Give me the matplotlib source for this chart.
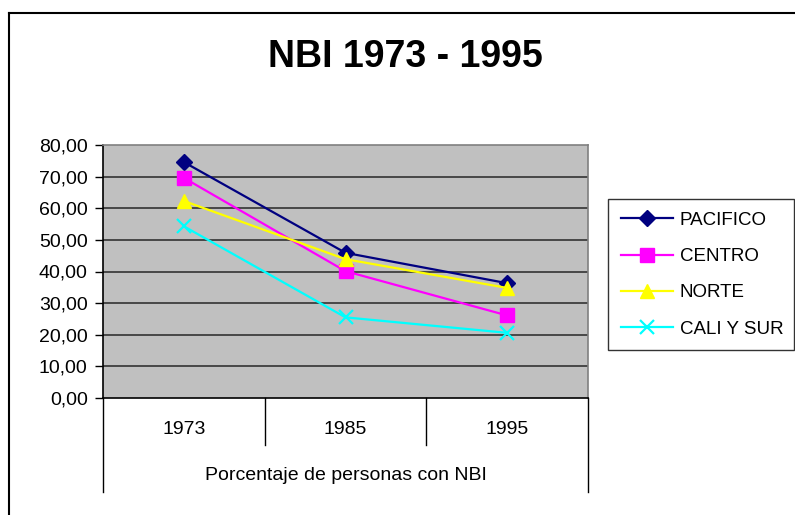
import matplotlib
matplotlib.use("Agg")
import matplotlib.pyplot as plt
from matplotlib.lines import Line2D

plt.rcParams['font.family'] = ['Liberation Sans', 'DejaVu Sans']

title = "NBI 1973 - 1995"
categories = ["1973", "1985", "1995"]
group_label = "Porcentaje de personas con NBI"
series_names = ["PACIFICO", "CENTRO", "NORTE", "CALI Y SUR"]
pacifico = [74.6, 45.9, 36.3]
centro = [69.6, 40.1, 26.1]
norte = [62.3, 43.9, 34.8]
cali_sur = [54.3, 25.5, 20.6]
y_ticks = [0, 10, 20, 30, 40, 50, 60, 70, 80]
y_tick_labels = ["0,00", "10,00", "20,00", "30,00", "40,00", "50,00", "60,00", "70,00", "80,00"]

W, H = 795, 515
fig = plt.figure(figsize=(W / 100, H / 100), dpi=100)

def fx(px):
    return px / W

def fy(py):
    return 1 - py / H

# outer chart frame (only top and left visible)
fig.add_artist(Line2D([fx(9), fx(9)], [fy(13), fy(520)], color='#000000', lw=1.5, transform=fig.transFigure))
fig.add_artist(Line2D([fx(9), fx(800)], [fy(13), fy(13)], color='#000000', lw=1.5, transform=fig.transFigure))

left, right, top, bottom = 103, 588, 145, 398
ax = fig.add_axes([fx(left), fy(bottom), fx(right - left), fy(top) - fy(bottom)])
ax.set_facecolor('#C0C0C0')
ax.set_xlim(0, 3)
ax.set_ylim(0, 80)

for v in y_ticks[1:-1]:
    ax.axhline(v, color='#333333', lw=1.2, zorder=1)

xs = [i + 0.5 for i in range(len(categories))]
styles = [
    (pacifico, '#000080', 'D', 8),
    (centro, '#FF00FF', 's', 10),
    (norte, '#FFFF00', '^', 10),
    (cali_sur, '#00FFFF', 'x', 10),
]
handles = []
for (vals, col, mk, ms), name in zip(styles, series_names):
    kw = dict(color=col, lw=1.6, marker=mk, markersize=ms, zorder=3)
    if mk == 'x':
        kw['markeredgewidth'] = 1.6
    else:
        kw['markeredgecolor'] = col
    h, = ax.plot(xs, vals, label=name, **kw)
    handles.append(h)

ax.set_yticks(y_ticks)
ax.set_yticklabels(y_tick_labels, fontsize=14)
ax.tick_params(axis='y', direction='out', length=6, width=1, pad=5, color='black')
ax.set_xticks([])

for s in ['top', 'right']:
    ax.spines[s].set_color('#808080')
    ax.spines[s].set_linewidth(1.2)
ax.spines['left'].set_color('black')
ax.spines['left'].set_linewidth(1.2)
ax.spines['bottom'].set_color('black')
ax.spines['bottom'].set_linewidth(1.2)

# category separators below axis
for i in range(len(categories) + 1):
    xv = left + (right - left) * i / len(categories)
    end = 492 if i in (0, len(categories)) else 445
    fig.add_artist(Line2D([fx(xv), fx(xv)], [fy(bottom), fy(end)], color='black', lw=1.0, transform=fig.transFigure))

for i, c in enumerate(categories):
    xv = left + (right - left) * (i + 0.5) / len(categories)
    fig.text(fx(xv), fy(430), c, ha='center', va='center', fontsize=14)
fig.text(fx((left + right) / 2), fy(475), group_label, ha='center', va='center', fontsize=14)

fig.text(fx(405), fy(57), title, ha='center', va='center', fontsize=27, fontweight='bold')

leg = fig.legend(handles=handles, loc='upper left',
                 bbox_to_anchor=(fx(608), fy(349), fx(794) - fx(608), fy(199) - fy(349)),
                 mode='expand', frameon=True, fancybox=False, fontsize=13.5,
                 borderaxespad=0, handlelength=2.8, handletextpad=0.35,
                 labelspacing=1.02, borderpad=0.68)
leg.get_frame().set_edgecolor('#000000')
leg.get_frame().set_linewidth(1.0)

fig.savefig('out.png', dpi=100)
